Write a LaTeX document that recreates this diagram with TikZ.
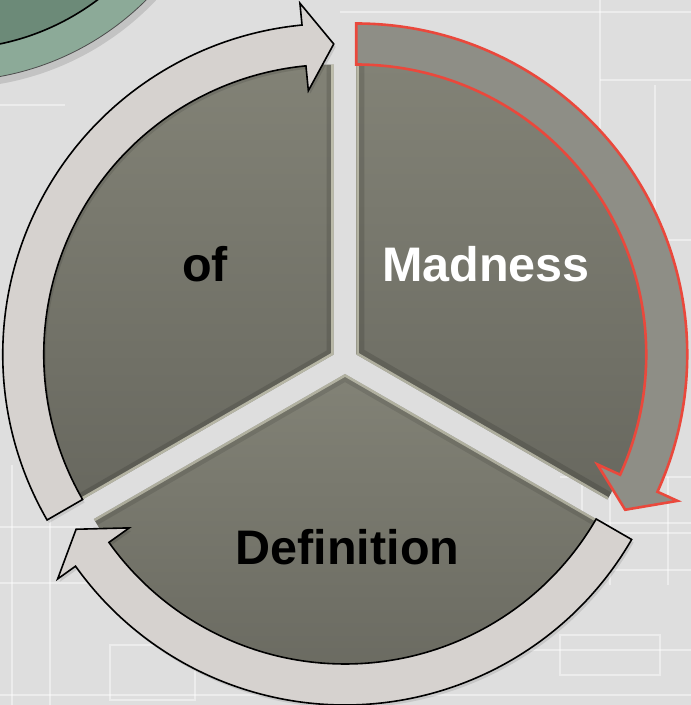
\documentclass[tikz,border=0pt]{standalone}
\usepackage{fontspec}
\setmainfont{Liberation Sans}
\definecolor{bgcol}{RGB}{222,222,222}
\definecolor{sectop}{RGB}{130,130,118}
\definecolor{secbot}{RGB}{104,104,95}
\definecolor{lightarrow}{RGB}{214,210,207}
\definecolor{grayarrow}{RGB}{142,142,134}
\definecolor{redline}{RGB}{234,72,60}
\definecolor{ringgreen}{RGB}{140,170,152}
\definecolor{darkgreen}{RGB}{108,138,120}
\tikzset{
  sectorpath/.style 2 args={insert path={(0,0) -- (#1:290) arc[start angle=#1,end angle=#2,radius=290] -- cycle}},
  arrowpath/.style 2 args={insert path={(#1:290) -- (#1:331) arc[start angle=#1,end angle=#2+5.5,radius=331] -- (#2+5.5:353) -- (#2:310.5) -- (#2+5.5:265) -- (#2+5.5:290) arc[start angle=#2+5.5,end angle=#1,radius=290] -- cycle}},
  lightarr/.style={fill=lightarrow, draw=black, line width=1.6, line join=miter},
  grayarr/.style={fill=grayarrow, draw=redline, line width=2.6, line join=miter},
  secfill/.style={top color=sectop, bottom color=secbot},
  lbl/.style={font=\fontsize{48.5}{56}\selectfont\bfseries, anchor=base, inner sep=0},
  bp/.style={draw=white, line width=1.1, opacity=.45},
  shadowA/.style={fill=black, opacity=.10},
}
\begin{document}
\begin{tikzpicture}[x=1pt,y=1pt]
\useasboundingbox (0,0) rectangle (691,705);
\begin{scope}
\clip (0,0) rectangle (691,705);
\fill[bgcol] (0,0) rectangle (691,705);
% faint blueprint lines
\draw[bp] (600,705) -- (600,465);
\draw[bp] (600,625) -- (691,625);
\draw[bp] (600,465) -- (691,465);
\draw[bp] (655,620) -- (655,465);
\draw[bp] (340,693) -- (691,693);
\draw[bp] (582,228) -- (582,120);
\draw[bp] (610,228) -- (610,120);
\draw[bp] (668,228) -- (668,120);
\draw[bp] (560,228) -- (691,228);
\draw[bp] (600,182) -- (691,182);
\draw[bp] (600,172) -- (691,172);
\draw[bp] (600,135) -- (691,135);
\draw[bp] (12,240) -- (12,0);
\draw[bp] (50,240) -- (50,0);
\draw[bp] (0,178) -- (80,178);
\draw[bp] (0,122) -- (110,122);
\draw[bp] (0,10) -- (691,10);
\draw[bp] (110,60) rectangle (195,5);
\draw[bp] (0,600) -- (65,600);
\draw[bp] (420,55) -- (691,55);
\draw[bp] (560,70) rectangle (660,30);
% green circle in the corner
\fill[black, opacity=.12] (-48,898) circle[radius=281];
\fill[ringgreen] (-50,902) circle[radius=278];
\draw[black!70, line width=0.8] (-50,902) circle[radius=278];
\fill[darkgreen] (-50,902) circle[radius=246];
\draw[black, line width=1.6] (-50,902) circle[radius=246];
\end{scope}
% sectors
\begin{scope}[shift={(333.74,350.5)}]
  \shade[secfill, sectorpath={90}{210}];
  \begin{scope}
    \clip[sectorpath={90}{210}];
    \draw[line width=14, black, opacity=.13, line join=miter] (210:290) -- (0,0) -- (90:290);
    \draw[line width=5, white!90!yellow, opacity=.55, line join=miter] (210:290) -- (0,0) -- (90:290);
  \end{scope}
\end{scope}
\begin{scope}[shift={(356.26,350.5)}]
  \shade[secfill, sectorpath={-30}{90}];
  \begin{scope}
    \clip[sectorpath={-30}{90}];
    \draw[line width=16, black, opacity=.13, line join=miter] (90:290) -- (0,0) -- (-30:290);
    \draw[line width=5, white!90!yellow, opacity=.5, line join=miter] (90:290) -- (0,0) -- (-30:290);
  \end{scope}
\end{scope}
\begin{scope}[shift={(345,331)}]
  \shade[secfill, sectorpath={210}{330}];
  \begin{scope}
    \clip[sectorpath={210}{330}];
    \draw[line width=14, black, opacity=.10, line join=miter] (210:290) -- (0,0) -- (330:290);
    \draw[line width=5, white!90!yellow, opacity=.45, line join=miter] (210:290) -- (0,0) -- (330:290);
  \end{scope}
\end{scope}
% arrows
\begin{scope}[shift={(333.74,350.5)}]
  \fill[shadowA, shift={(2,-3)}, arrowpath={210}{90}];
  \path[lightarr, arrowpath={210}{90}];
\end{scope}
\begin{scope}[shift={(345,331)}]
  \fill[shadowA, shift={(2,-3)}, arrowpath={330}{210}];
  \path[lightarr, arrowpath={330}{210}];
\end{scope}
\begin{scope}[shift={(356.26,350.5)}]
  \path[grayarr, arrowpath={90}{-30}];
\end{scope}
% labels
\node[lbl, text=black] (of) at (205,423) {of};
\node[lbl, text=white] (madness) at (486,423) {Madness};
\node[lbl, text=black] (definition) at (347.5,140) {Definition};
\end{tikzpicture}
\end{document}
